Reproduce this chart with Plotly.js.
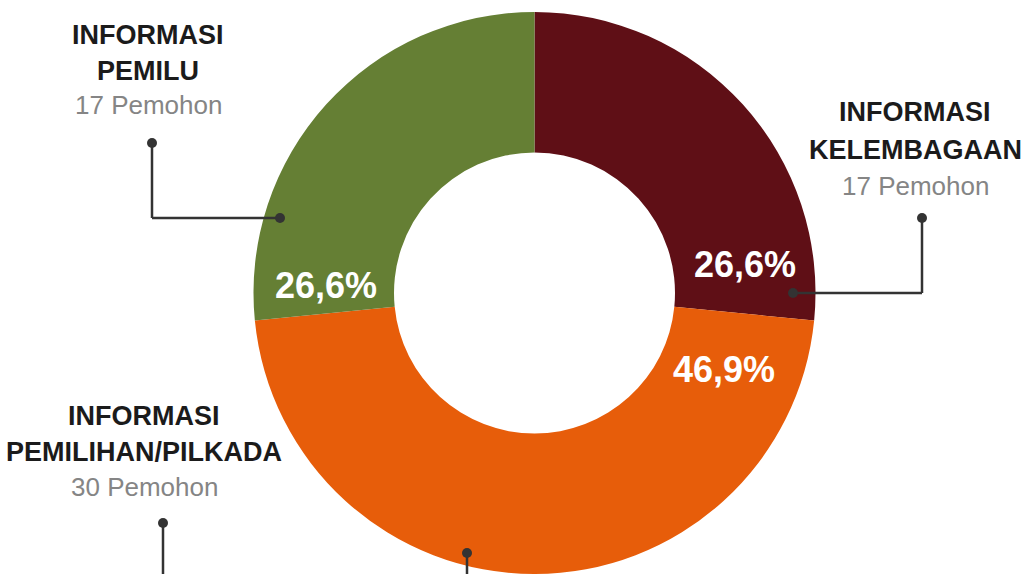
<!DOCTYPE html>
<html><head><meta charset="utf-8">
<script src="https://cdn.plot.ly/plotly-3.0.1.min.js"></script>
<style>html,body{margin:0;padding:0;overflow:hidden;background:#fff}</style>
</head><body><div id="chart" style="width:1027px;height:574px"></div>
<script>
// ---- data ----
const categories = ['INFORMASI KELEMBAGAAN', 'INFORMASI PEMILIHAN/PILKADA', 'INFORMASI PEMILU'];
const values = [17, 30, 17];
const colors = ['#5f0f16', '#e75d0a', '#657f34'];
const headingLines = [['INFORMASI', 'KELEMBAGAAN'], ['INFORMASI', 'PEMILIHAN/PILKADA'], ['INFORMASI', 'PEMILU']];
const countLabels = values.map(v => v + ' Pemohon');

// ---- layout helpers (pixel -> paper) ----
const W = 1027, H = 574;
const px = x => x / W, py = y => 1 - y / H;
const total = values.reduce((a, b) => a + b, 0);
const pctText = values.map(v => (v / total * 100).toFixed(1).replace('.', ',') + '%');

const headFont = "'Liberation Sans', Arial, sans-serif";
const pctFont = "'Liberation Sans', Arial, sans-serif";

// label block positions (center x, cap-center y of each line)
const blocks = [
  {x: 915, ys: [112, 150, 186]},
  {x: 144, ys: [416, 452, 487]},
  {x: 148, ys: [35, 71, 105]}
];
const pctPos = [[745, 264], [724, 369], [326, 285]];

const annotations = [];
blocks.forEach((b, i) => {
  headingLines[i].forEach((t, j) => {
    annotations.push({xref: 'paper', yref: 'paper', x: px(b.x), y: py(b.ys[j]), xanchor: 'center', yanchor: 'middle',
      text: '<b>' + t + '</b>', showarrow: false, font: {family: headFont, size: 27, color: '#1b1b1b'}});
  });
  annotations.push({xref: 'paper', yref: 'paper', x: px(b.x), y: py(b.ys[2]), xanchor: 'center', yanchor: 'middle',
    text: countLabels[i], showarrow: false, font: {family: headFont, size: 26, color: '#858585'}});
});
pctText.forEach((t, i) => {
  annotations.push({xref: 'paper', yref: 'paper', x: px(pctPos[i][0]), y: py(pctPos[i][1]), xanchor: 'center', yanchor: 'middle',
    text: '<b>' + t + '</b>', showarrow: false, font: {family: pctFont, size: 36, color: '#ffffff'}});
});

// leader lines
const lineColor = '#333333';
const paths = [
  [[922, 218], [922, 293], [793, 293]],
  [[163, 523], [163, 580]],
  [[467, 553], [467, 580]],
  [[152, 143], [152, 218], [280, 218]]
];
const dots = [[922, 218], [793, 293], [163, 523], [467, 553], [152, 143], [280, 218]];
const shapes = [];
paths.forEach(p => {
  for (let k = 0; k < p.length - 1; k++) {
    shapes.push({type: 'line', xref: 'paper', yref: 'paper', x0: px(p[k][0]), y0: py(p[k][1]), x1: px(p[k + 1][0]), y1: py(p[k + 1][1]),
      line: {color: lineColor, width: 2.5}});
  }
});
dots.forEach(d => {
  shapes.push({type: 'circle', xref: 'paper', yref: 'paper', xsizemode: 'pixel', ysizemode: 'pixel',
    xanchor: px(d[0]), yanchor: py(d[1]), x0: -5, x1: 5, y0: -5, y1: 5,
    fillcolor: lineColor, line: {color: lineColor, width: 0}});
});

const trace = {
  type: 'pie', labels: categories, values: values, hole: 0.5, sort: false, direction: 'clockwise', rotation: 0,
  marker: {colors: colors, line: {width: 0}}, textinfo: 'none', hoverinfo: 'label+value+percent',
  domain: {x: [253.5 / W, 815.5 / W], y: [0, 1 - 12 / H]}
};

Plotly.newPlot('chart', [trace], {
  width: W, height: H, margin: {l: 0, r: 0, t: 0, b: 0}, showlegend: false, separators: ',.',
  paper_bgcolor: '#ffffff', plot_bgcolor: '#ffffff', annotations: annotations, shapes: shapes
}, {displayModeBar: false, staticPlot: true});
</script></body></html>
